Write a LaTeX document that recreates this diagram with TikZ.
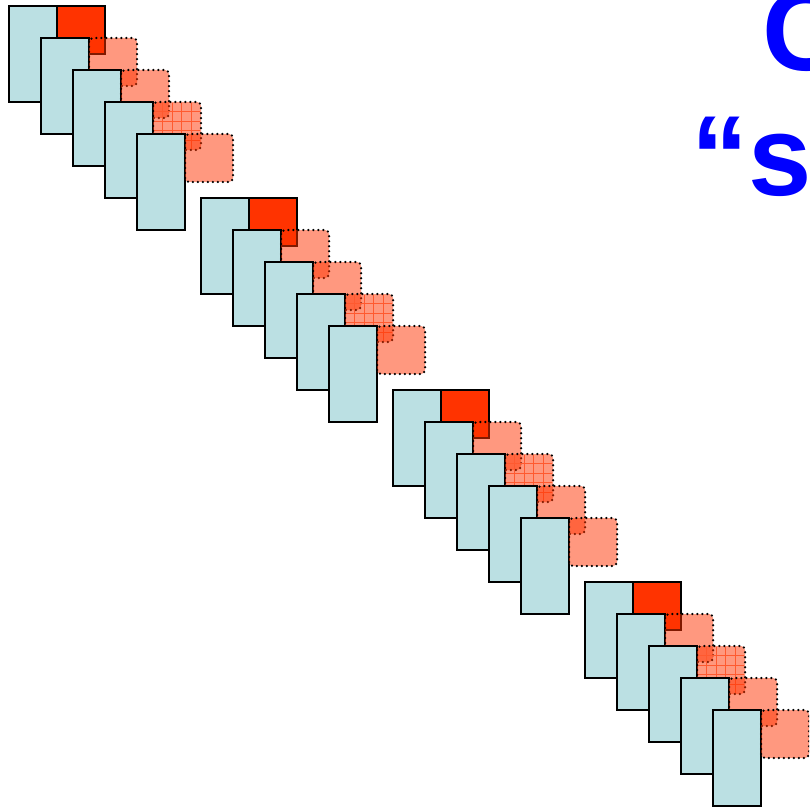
\documentclass[tikz,border=0pt]{standalone}
\usepackage{fontspec}
\setmainfont{Liberation Sans}
\definecolor{cellblue}{HTML}{BBE0E3}
\definecolor{hotred}{HTML}{FF3300}
\definecolor{titleblue}{HTML}{0000FF}
\definecolor{gridred}{HTML}{FF5A30}
\tikzset{
  colbox/.style={draw=black, line width=2.6pt, fill=cellblue},
  redsq/.style={draw=black, line width=2.6pt, fill=hotred},
  pinksq/.style={draw=black, line width=2.5pt, dash pattern=on 0pt off 5pt, line cap=round,
                 fill=hotred, fill opacity=0.5, rounded corners=4pt},
  gridln/.style={draw=gridred, line width=0.9pt},
  titletext/.style={inner sep=0pt, anchor=base west, text=titleblue,
                    font=\fontsize{114}{137}\selectfont\bfseries}
}
\begin{document}
\begin{tikzpicture}[x=1pt,y=-1pt]
\useasboundingbox (0,0) rectangle (809,810);
\clip (0,0) rectangle (809,810);
\fill[white] (0,0) rectangle (809,810);
\foreach \g/\gi in {0/3,1/3,2/2,3/2}{
  \foreach \i in {0,...,4}{
    \pgfmathsetmacro{\bx}{9+192*\g+32*\i}
    \pgfmathsetmacro{\by}{6+192*\g+32*\i}
    \draw[colbox] (\bx,\by) rectangle ++(48,96);
    \ifnum\i=0
      \draw[redsq] (\bx+48,\by) rectangle ++(48,48);
    \else
      \ifnum\i=\gi
        \fill[hotred, opacity=0.5, rounded corners=4pt] (\bx+48,\by) rectangle ++(48,48);
        \foreach \k in {1,...,4}{
          \draw[gridln] (\bx+48+9.6*\k,\by+1) -- (\bx+48+9.6*\k,\by+47);
          \draw[gridln] (\bx+49,\by+9.6*\k) -- (\bx+95,\by+9.6*\k);
        }
        \draw[pinksq, fill=none] (\bx+48,\by) rectangle ++(48,48);
      \else
        \draw[pinksq] (\bx+48,\by) rectangle ++(48,48);
      \fi
    \fi
  }
}
\node[titletext] (t1) at (762,71) {C};
\node[titletext] (t2) at (691,196) {“s};
\end{tikzpicture}
\end{document}
